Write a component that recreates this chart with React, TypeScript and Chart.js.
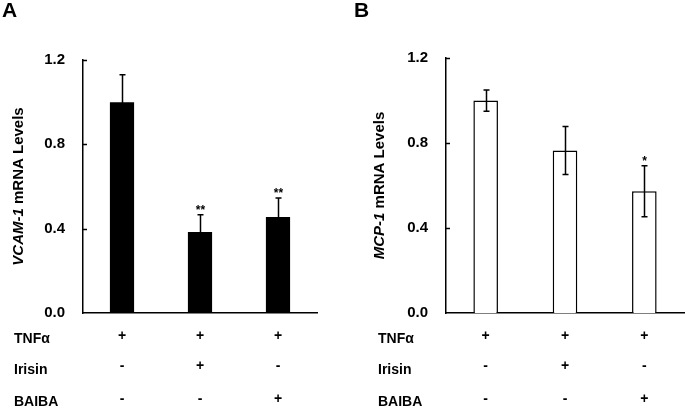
import React, { useEffect, useRef } from 'react';
import { Chart, registerables } from 'chart.js';

Chart.register(...registerables);

// ---- data ----
const groups = ['Group 1', 'Group 2', 'Group 3'];
const rowLabels = ['TNFα', 'Irisin', 'BAIBA'];
const tnfSigns = ['+', '+', '+'];
const irisinSigns = ['-', '+', '-'];
const baibaSigns = ['-', '-', '+'];
const vcamMeans = [1.0, 0.384, 0.455];
const vcamErrors = [0.13, 0.082, 0.09];
const vcamStars = ['', '**', '**'];
const mcpMeans = [1.0, 0.765, 0.573];
const mcpErrors = [0.05, 0.113, 0.12];
const mcpStars = ['', '', '*'];
const yTickValues = [0, 0.4, 0.8, 1.2];

const FONT = '"Liberation Sans", Arial, Helvetica, sans-serif';

type Panel = {
  letter: string;
  gene: string;
  rest: string;
  means: number[];
  errors: number[];
  stars: string[];
  fill: string;
  border: string;
  left: number;
  width: number;
  axisWidth: number;
  top: number;
  rightPad: number;
  titleX: number;
  rowLabelX: number;
  letterX: number;
};

const panels: Panel[] = [
  {
    letter: 'A', gene: 'VCAM-1', rest: ' mRNA Levels', means: vcamMeans, errors: vcamErrors, stars: vcamStars,
    fill: '#000000', border: '#000000', left: 0, width: 340, axisWidth: 83, top: 60, rightPad: 23,
    titleX: 19, rowLabelX: 14, letterX: 2,
  },
  {
    letter: 'B', gene: 'MCP-1', rest: ' mRNA Levels', means: mcpMeans, errors: mcpErrors, stars: mcpStars,
    fill: '#ffffff', border: '#000000', left: 340, width: 345, axisWidth: 106, top: 58, rightPad: 1,
    titleX: 40, rowLabelX: 38, letterX: 14,
  },
];

const signRows = [tnfSigns, irisinSigns, baibaSigns];
const rowSymbolY = [336, 366, 399];
const rowLabelBaseline = [343, 374, 406];

function PanelChart({ p }: { p: Panel }) {
  const ref = useRef<HTMLCanvasElement | null>(null);
  useEffect(() => {
    if (!ref.current) return;
    const overlay = {
      id: 'overlay',
      afterDraw(chart: any) {
        const ctx = chart.ctx as CanvasRenderingContext2D;
        const y = chart.scales.y;
        const area = chart.chartArea;
        const meta = chart.getDatasetMeta(0);
        ctx.save();
        ctx.strokeStyle = '#000';
        ctx.fillStyle = '#000';
        ctx.lineWidth = 1.5;
        // inward tick marks
        yTickValues.forEach((v) => {
          if (v === 0) return;
          const py = Math.round(y.getPixelForValue(v)) + 0.5;
          ctx.beginPath();
          ctx.moveTo(area.left, py);
          ctx.lineTo(area.left + 4, py);
          ctx.stroke();
        });
        // error bars + stars
        meta.data.forEach((bar: any, i: number) => {
          const x = Math.round(bar.x) + 0.5;
          const top = y.getPixelForValue(p.means[i] + p.errors[i]);
          const bot = y.getPixelForValue(p.means[i] - p.errors[i]);
          ctx.beginPath();
          ctx.moveTo(x, top);
          ctx.lineTo(x, bot);
          ctx.moveTo(x - 3, top);
          ctx.lineTo(x + 3, top);
          ctx.moveTo(x - 3, bot);
          ctx.lineTo(x + 3, bot);
          ctx.stroke();
          if (p.stars[i]) {
            ctx.font = `bold 12px ${FONT}`;
            ctx.textAlign = 'center';
            ctx.textBaseline = 'alphabetic';
            ctx.fillText(p.stars[i], x, top - 1);
          }
        });
        // panel letter
        ctx.font = `bold 21px ${FONT}`;
        ctx.textAlign = 'left';
        ctx.textBaseline = 'alphabetic';
        ctx.fillText(p.letter, p.letterX, 17);
        // y title with italic gene name
        const cy = (area.top + area.bottom) / 2;
        ctx.save();
        ctx.translate(p.titleX, cy);
        ctx.rotate(-Math.PI / 2);
        ctx.textBaseline = 'middle';
        ctx.textAlign = 'left';
        ctx.font = `italic bold 15px ${FONT}`;
        const w1 = ctx.measureText(p.gene).width;
        ctx.font = `bold 15px ${FONT}`;
        const w2 = ctx.measureText(p.rest).width;
        const start = -(w1 + w2) / 2;
        ctx.font = `italic bold 15px ${FONT}`;
        ctx.fillText(p.gene, start, 0);
        ctx.font = `bold 15px ${FONT}`;
        ctx.fillText(p.rest, start + w1, 0);
        ctx.restore();
        // treatment table
        ctx.font = `bold 14px ${FONT}`;
        rowLabels.forEach((lab, r) => {
          ctx.textAlign = 'left';
          ctx.textBaseline = 'alphabetic';
          ctx.fillText(lab, p.rowLabelX, rowLabelBaseline[r]);
          ctx.textAlign = 'center';
          ctx.textBaseline = 'middle';
          meta.data.forEach((bar: any, i: number) => {
            ctx.fillText(signRows[r][i], bar.x, rowSymbolY[r]);
          });
        });
        ctx.restore();
      },
    };
    const chart = new Chart(ref.current, {
      type: 'bar',
      data: {
        labels: groups,
        datasets: [
          {
            data: p.means,
            backgroundColor: p.fill,
            borderColor: p.border,
            borderWidth: p.fill === '#ffffff' ? 1.5 : 0,
            barPercentage: 0.31,
            categoryPercentage: 1,
          },
        ],
      },
      options: {
        animation: false,
        responsive: true,
        maintainAspectRatio: false,
        layout: { padding: { left: 0, right: p.rightPad, top: p.top, bottom: 95 } },
        plugins: { legend: { display: false }, tooltip: { enabled: false }, title: { display: false } },
        scales: {
          x: {
            grid: { display: false, drawTicks: false },
            ticks: { display: false },
            border: { display: true, color: '#000', width: 1.5 },
            afterFit: (s: any) => { s.height = 0; },
          },
          y: {
            min: 0,
            max: 1.2,
            afterBuildTicks: (s: any) => { s.ticks = yTickValues.map((v) => ({ value: v })); },
            grid: { display: false, drawTicks: false },
            border: { display: true, color: '#000', width: 1.5 },
            ticks: {
              padding: 18,
              color: '#000',
              font: { family: FONT, size: 15, weight: 'bold' },
              callback: (v: any) => Number(v).toFixed(1),
            },
            afterFit: (s: any) => { s.width = p.axisWidth; },
          },
        },
      },
      plugins: [overlay],
    } as any);
    return () => chart.destroy();
  }, [p]);
  return (
    <div style={{ position: 'absolute', left: p.left, top: 0, width: p.width, height: 408 }}>
      <canvas ref={ref} />
    </div>
  );
}

export default function App() {
  return (
    <div style={{ position: 'fixed', left: 0, top: 0, width: 685, height: 408, background: '#fff' }}>
      {panels.map((p) => (
        <PanelChart key={p.letter} p={p} />
      ))}
    </div>
  );
}
